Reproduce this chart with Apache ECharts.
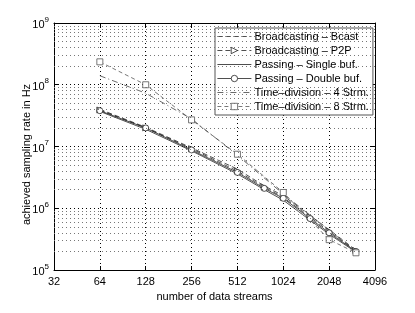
<!DOCTYPE html>
<html><head><meta charset="utf-8">
<script src="https://cdn.jsdelivr.net/npm/echarts@6/dist/echarts.min.js"></script>
<style>html,body{margin:0;padding:0;background:#fff}#c{width:415px;height:313px}</style>
</head><body><div id="c"></div>
<script>
// ---- data ----
const seriesNames = ['Broadcasting \u2013 Bcast','Broadcasting \u2013 P2P','Passing \u2013 Single buf.','Passing \u2013 Double buf.','Time\u2013division \u2013 4 Strm.','Time\u2013division \u2013 8 Strm.'];
const xBundle = [64, 128, 256, 512, 768, 1024, 1536, 2048, 3072];
const bcast   = [4.0e7, 2.05e7, 9.5e6, 4.3e6, 2.3e6, 1.6e6, 7.6e5, 4.5e5, 2.1e5];
const p2p     = [3.9e7, 2.0e7, 9.2e6, 4.0e6, 2.2e6, 1.5e6, 7.2e5, 4.2e5, 2.05e5];
const single  = [3.7e7, 1.9e7, 8.5e6, 3.6e6, 2.0e6, 1.35e6, 6.4e5, 3.8e5, 1.95e5];
const dbl     = [3.8e7, 2.0e7, 8.8e6, 3.8e6, 2.1e6, 1.45e6, 6.8e5, 4.0e5, 2.0e5];
const xTime   = [64, 128, 256, 512, 1024, 2048, 3072];
const strm4   = [1.4e8, 7.3e7, 2.8e7, 7.2e6, 1.7e6, 4.4e5, 2.0e5];
const strm8   = [2.35e8, 1.0e8, 2.7e7, 7.5e6, 1.8e6, 3.1e5, 1.9e5];
const xTickLabels = ['32','64','128','256','512','1024','2048','4096'];
const yTickExps = ['5','6','7','8','9'];

const zip = (xs, ys) => xs.map((x, i) => [x, ys[i]]);

// minor grid values for y (2..9 x 10^k)
const minorY = [];
for (let e = 5; e < 9; e++) for (let m = 2; m <= 9; m++) minorY.push({ yAxis: m * Math.pow(10, e) });

const FONT = 'Liberation Sans';
const dark = '#222';
const hollow = c => ({ color: '#fff', borderColor: c, borderWidth: 0.8 });

const chart = echarts.init(document.getElementById('c'), null, { renderer: 'canvas' });
chart.setOption({
  animation: false,
  backgroundColor: '#fff',
  textStyle: { fontFamily: FONT },
  grid: { left: 54, right: 40, top: 23, bottom: 43, containLabel: false },
  legend: {
    orient: 'vertical', left: 215, top: 28,
    backgroundColor: '#fff', borderColor: '#555', borderWidth: 1,
    padding: [2, 4, 2, 2], itemGap: 1, itemWidth: 34, itemHeight: 8,
    lineStyle: { width: 0.8 },
    itemStyle: { borderWidth: 0.8 },
    textStyle: { fontFamily: FONT, fontSize: 11, color: '#000', padding: [0, 0, 0, -2], lineHeight: 13 },
    data: [
      { name: seriesNames[0], itemStyle: { opacity: 0 } },
      { name: seriesNames[1] },
      { name: seriesNames[2], itemStyle: { opacity: 0 } },
      { name: seriesNames[3] },
      { name: seriesNames[4], itemStyle: { opacity: 0 } },
      { name: seriesNames[5] }
    ]
  },
  xAxis: [{
    type: 'log', logBase: 2, min: 32, max: 4096,
    name: 'number of data streams', nameLocation: 'middle', nameGap: 21, nameMoveOverlap: false,
    nameTextStyle: { fontFamily: FONT, fontSize: 11, color: '#000' },
    axisLine: { show: true, lineStyle: { color: '#000', width: 1 } },
    axisTick: { show: true, inside: true, length: 4, lineStyle: { color: '#000' } },
    axisLabel: { fontFamily: FONT, fontSize: 11, color: '#000', margin: 6,
      formatter: v => xTickLabels[Math.round(Math.log2(v)) - 5] },
    splitLine: { show: true, lineStyle: { type: [1, 3], color: '#000', width: 1 } }
  }, {
    type: 'log', logBase: 2, min: 32, max: 4096, position: 'top',
    axisLine: { show: true, lineStyle: { color: '#000', width: 1 } },
    axisTick: { show: true, inside: true, length: 4, lineStyle: { color: '#000' } },
    axisLabel: { show: false }, splitLine: { show: false }
  }],
  yAxis: [{
    type: 'log', logBase: 10, min: 1e5, max: 1e9,
    name: 'achieved sampling rate in Hz', nameLocation: 'middle', nameGap: 22, nameMoveOverlap: false,
    nameTextStyle: { fontFamily: FONT, fontSize: 11, color: '#000', padding: [0, 16, 0, 0] },
    axisLine: { show: true, lineStyle: { color: '#000', width: 1 } },
    axisTick: { show: true, inside: true, length: 4, lineStyle: { color: '#000' } },
    axisLabel: { fontFamily: FONT, fontSize: 11, color: '#000', margin: 5,
      formatter: v => '{b|10}{s|' + yTickExps[Math.round(Math.log10(v)) - 5] + '}',
      rich: {
        b: { fontFamily: FONT, fontSize: 11, color: '#000', verticalAlign: 'bottom' },
        s: { fontFamily: FONT, fontSize: 8, color: '#000', verticalAlign: 'top', padding: [0, 0, 7, 0] }
      } },
    splitLine: { show: true, lineStyle: { type: [1, 3], color: '#000', width: 1 } }
  }, {
    type: 'log', logBase: 10, min: 1e5, max: 1e9, position: 'right',
    axisLine: { show: true, lineStyle: { color: '#000', width: 1 } },
    axisTick: { show: true, inside: true, length: 4, lineStyle: { color: '#000' } },
    axisLabel: { show: false }, splitLine: { show: false }
  }],
  series: [
    { name: seriesNames[0], type: 'line', data: zip(xBundle, bcast), symbol: 'none',
      lineStyle: { color: dark, width: 0.8, type: [5, 3] }, itemStyle: { color: dark },
      markLine: { silent: true, symbol: 'none', label: { show: false },
        lineStyle: { type: [1, 3], color: '#777', width: 1 }, emphasis: { disabled: true }, data: minorY } },
    { name: seriesNames[1], type: 'line', data: zip(xBundle, p2p), symbol: 'triangle', symbolSize: 6, symbolRotate: -90,
      lineStyle: { color: dark, width: 0.8, type: [5, 3] }, itemStyle: hollow(dark) },
    { name: seriesNames[2], type: 'line', data: zip(xBundle, single), symbol: 'none',
      lineStyle: { color: dark, width: 0.8, type: 'solid' }, itemStyle: { color: dark } },
    { name: seriesNames[3], type: 'line', data: zip(xBundle, dbl), symbol: 'circle', symbolSize: 6,
      lineStyle: { color: dark, width: 0.8, type: 'solid' }, itemStyle: hollow(dark) },
    { name: seriesNames[4], type: 'line', data: zip(xTime, strm4), symbol: 'none',
      lineStyle: { color: '#444', width: 0.8, type: [6, 3, 1, 3] }, itemStyle: { color: '#444' } },
    { name: seriesNames[5], type: 'line', data: zip(xTime, strm8), symbol: 'rect', symbolSize: 6,
      lineStyle: { color: '#555', width: 0.8, type: [4, 3] }, itemStyle: hollow('#555') }
  ]
});
</script>
</body></html>
